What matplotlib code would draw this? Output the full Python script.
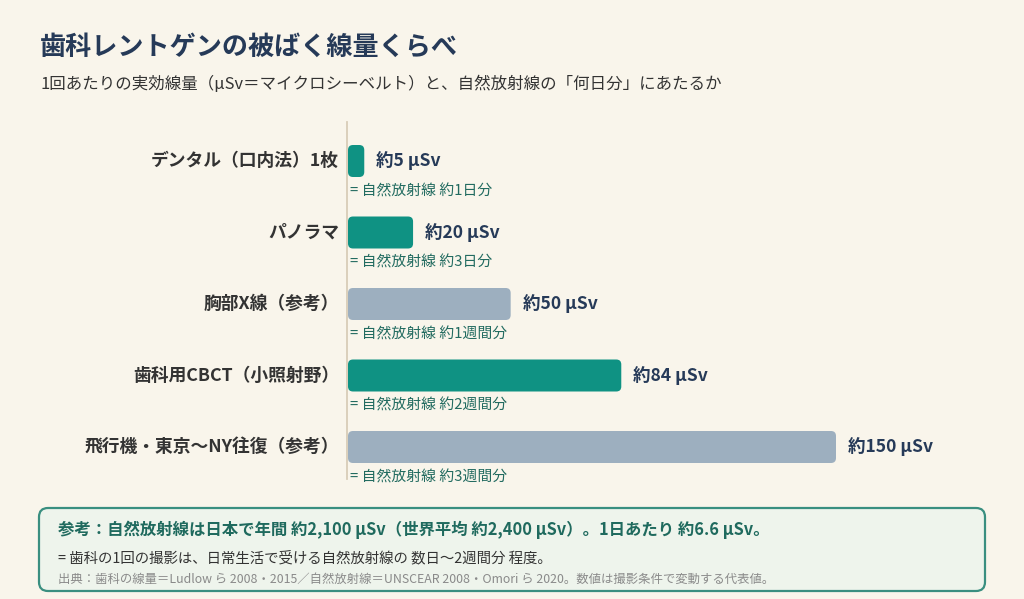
import matplotlib
matplotlib.use('Agg')
import matplotlib.pyplot as plt
from matplotlib.patches import FancyBboxPatch
from matplotlib.lines import Line2D

plt.rcParams['font.family'] = ['Noto Sans CJK JP', 'DejaVu Sans']

# data
categories = ['デンタル（口内法）1枚', 'パノラマ', '胸部X線（参考）',
              '歯科用CBCT（小照射野）', '飛行機・東京〜NY往復（参考）']
doses = [5, 20, 50, 84, 150]
dose_labels = ['約5 µSv', '約20 µSv', '約50 µSv', '約84 µSv', '約150 µSv']
equivalents = ['約1日分', '約3日分', '約1週間分', '約2週間分', '約3週間分']
is_dental = [True, True, False, True, False]

BG = '#f9f5eb'
TEAL = '#0f9283'
GRAY = '#9dafbf'
NAVY = '#263a58'
DARK = '#333333'
ANNOT = '#226b60'

W, H = 1024, 599
fig = plt.figure(figsize=(W / 100, H / 100), dpi=100, facecolor=BG)

# axes: x 0..150 spans px 348..836, rows centred at y=161 + 71.5*i
ax_left, ax_right = 348, 836
ax_top, ax_bottom = 122, 490
ax = fig.add_axes([ax_left / W, 1 - ax_bottom / H,
                   (ax_right - ax_left) / W, (ax_bottom - ax_top) / H])
ax.set_facecolor('none')
row_px = 71.5
y_top = -(161 - ax_top) / row_px
y_bot = (ax_bottom - 161) / row_px
ax.set_xlim(0, 150)
ax.set_ylim(y_bot, y_top)
ax.axis('off')

px_x = (ax_right - ax_left) / 150
aspect = px_x / row_px
bar_h = 32 / row_px
r = 5 / px_x

for i, (cat, d, lab, eq, dent) in enumerate(zip(categories, doses, dose_labels,
                                                 equivalents, is_dental)):
    col = TEAL if dent else GRAY
    ax.add_patch(FancyBboxPatch((0, i - bar_h / 2), d, bar_h,
                                boxstyle=f'round,pad=0,rounding_size={r}',
                                mutation_aspect=aspect, fc=col, ec='none'))
    ax.text(d + 12 / px_x, i, lab, va='center', ha='left', fontsize=12.6,
            fontweight='bold', color=NAVY)
    ax.text(-9 / px_x, i, cat, va='center', ha='right', fontsize=12.8,
            fontweight='bold', color=DARK)
    ax.text(2 / px_x, i + 30 / row_px, '= 自然放射線 ' + eq, va='center',
            ha='left', fontsize=10.7, color=ANNOT)

# vertical baseline
ax.add_line(Line2D([-1 / px_x, -1 / px_x], [y_top, 4 + 32 / row_px],
                   color='#d8cdb8', lw=1.3, clip_on=False))

# titles
fig.text(40 / W, 1 - 47 / H, '歯科レントゲンの被ばく線量くらべ', fontsize=18.8,
         fontweight='bold', color=NAVY, va='center', ha='left')
fig.text(40 / W, 1 - 84 / H,
         '1回あたりの実効線量（µSv＝マイクロシーベルト）と、自然放射線の「何日分」にあたるか',
         fontsize=11.85, color=DARK, va='center', ha='left')

# note box
bx0, by0, bx1, by1 = 39, 508, 985, 591
box = FancyBboxPatch((bx0 / W, 1 - by1 / H), (bx1 - bx0) / W, (by1 - by0) / H,
                     boxstyle=f'round,pad=0,rounding_size={9 / W}',
                     mutation_aspect=W / H, transform=fig.transFigure,
                     fc='#eef4ec', ec='#3a8f80', lw=1.6)
fig.add_artist(box)
fig.text(58 / W, 1 - 530 / H,
         '参考：自然放射線は日本で年間 約2,100 µSv（世界平均 約2,400 µSv）。1日あたり 約6.6 µSv。',
         fontsize=11.8, fontweight='bold', color='#1f6a5e', va='center', ha='left')
fig.text(58 / W, 1 - 558 / H,
         '= 歯科の1回の撮影は、日常生活で受ける自然放射線の 数日〜2週間分 程度。',
         fontsize=10.4, color=DARK, va='center', ha='left')
fig.text(58 / W, 1 - 579 / H,
         '出典：歯科の線量＝Ludlow ら 2008・2015／自然放射線＝UNSCEAR 2008・Omori ら 2020。数値は撮影条件で変動する代表値。',
         fontsize=8.9, color='#8a8a8a', va='center', ha='left')

fig.savefig('out.png', dpi=100, facecolor=BG)
